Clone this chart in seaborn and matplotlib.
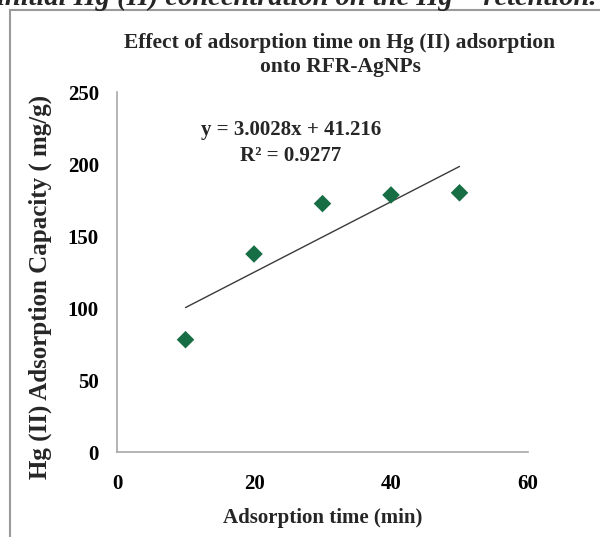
import matplotlib
matplotlib.use("Agg")
import matplotlib.pyplot as plt
import seaborn as sns
import pandas as pd
from matplotlib.patches import Rectangle

# Data
time_min = [10, 20, 30, 40, 50]
capacity = [78, 137.5, 172.5, 178.5, 180]
x_ticks = [0, 20, 40, 60]
y_ticks = [0, 50, 100, 150, 200, 250]
title_text = "Effect of adsorption time on Hg (II) adsorption\nonto RFR-AgNPs"
eq_text = "y = 3.0028x + 41.216\nR² = 0.9277"
header_text = "initial Hg (II) concentration on the Hg²⁺ retention."

df = pd.DataFrame({"time": time_min, "capacity": capacity})

sns.set_theme(style="white")
plt.rcParams["font.family"] = ["Liberation Serif", "DejaVu Serif"]

fig = plt.figure(figsize=(6.0, 5.37), dpi=100)
ax = fig.add_axes([117/600, 1-452/537, (528-117)/600, (452-92)/537])

sns.regplot(data=df, x="time", y="capacity", ax=ax, ci=None, truncate=True, marker="D",
            scatter_kws=dict(s=80, color="#176e45", edgecolor="none", zorder=3, alpha=1),
            line_kws=dict(color="#3a3a3a", lw=1.0, zorder=2))

ax.set_xlim(0, 60)
ax.set_ylim(0, 250)
ax.set_xticks(x_ticks)
ax.set_yticks(y_ticks)
ax.set_xticklabels([str(v) for v in x_ticks], fontweight="bold", fontsize=15)
ax.set_yticklabels([str(v) for v in y_ticks], fontweight="bold", fontsize=15)
for s in ["top", "right"]:
    ax.spines[s].set_visible(False)
for s in ["left", "bottom"]:
    ax.spines[s].set_color("#a8a8a8")
    ax.spines[s].set_linewidth(1.2)
ax.tick_params(axis="both", direction="out", length=4, width=1, color="#a8a8a8", colors="#000000")
ax.tick_params(axis="x", pad=12)
ax.tick_params(axis="y", pad=9)
ax.set_xlabel("Adsorption time (min)", fontweight="bold", fontsize=15, labelpad=10)
ax.set_ylabel("Hg (II) Adsorption Capacity ( mg/g)", fontweight="bold", fontsize=18)
ax.yaxis.set_label_coords((52-117)/411, (452-287)/360)

fig.text(340/600, 1-55/537, title_text, ha="center", va="center", fontweight="bold",
         fontsize=15.5, linespacing=1.25)
fig.text(291/600, 1-143/537, eq_text, ha="center", va="center", fontweight="bold",
         fontsize=15, linespacing=1.35)

fig.text(-0.005, 1-5/537, header_text, ha="left", va="baseline", fontweight="bold",
         fontstyle="italic", fontsize=20.5)

fig.patches.append(Rectangle((10/600, -0.1), 1.2, 1.1 - 10/537, transform=fig.transFigure,
                             fill=False, edgecolor="#9a9a9a", lw=1.5, figure=fig))

fig.savefig("out.png", dpi=100)
